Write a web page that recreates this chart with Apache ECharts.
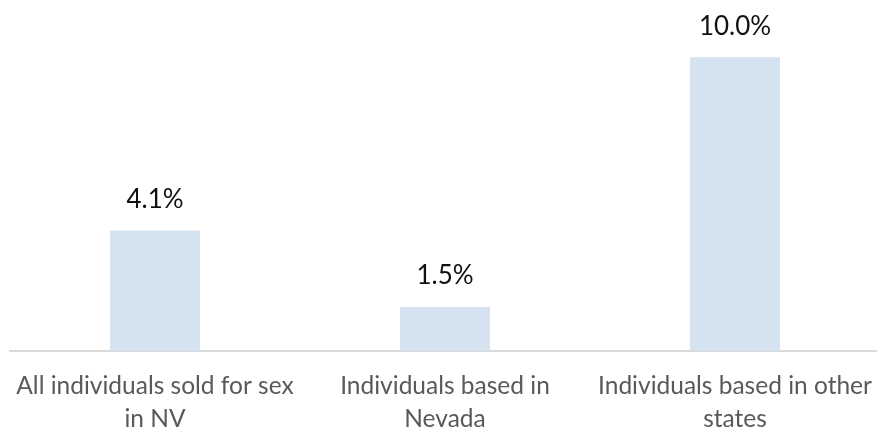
<!DOCTYPE html>
<html>
<head>
<meta charset="utf-8">
<script src="https://cdn.jsdelivr.net/npm/echarts@6/dist/echarts.min.js"></script>
<style>
html,body{margin:0;padding:0;background:#fff;}
#c{width:877px;height:427px;}
</style>
</head>
<body>
<div id="c"></div>
<script>
var categories = ['All individuals sold for sex\nin NV', 'Individuals based in\nNevada', 'Individuals based in other\nstates'];
var values = [4.1, 1.5, 10.0];

var chart = echarts.init(document.getElementById('c'), null, {renderer: 'canvas'});
chart.setOption({
  animation: false,
  grid: {left: 10, width: 870, top: 57.3, bottom: 76, containLabel: false, outerBoundsMode: 'none'},
  xAxis: {
    type: 'category',
    data: categories,
    axisLine: {show: true, lineStyle: {color: '#d9d9d9', width: 2}},
    axisTick: {show: false},
    axisLabel: {
      interval: 0,
      margin: 19,
      color: '#595959',
      fontFamily: 'Lato',
      fontSize: 24.5,
      lineHeight: 33
    }
  },
  yAxis: {
    type: 'value',
    min: 0,
    max: 10,
    show: false,
    splitLine: {show: false}
  },
  series: [{
    type: 'bar',
    data: values,
    barWidth: 90,
    itemStyle: {color: '#d5e2ef'},
    label: {
      show: true,
      position: 'top',
      distance: 18,
      color: '#111111',
      fontFamily: 'Lato',
      fontSize: 26,
      formatter: function (p) { return p.value.toFixed(1) + '%'; }
    }
  }]
});
</script>
</body>
</html>
